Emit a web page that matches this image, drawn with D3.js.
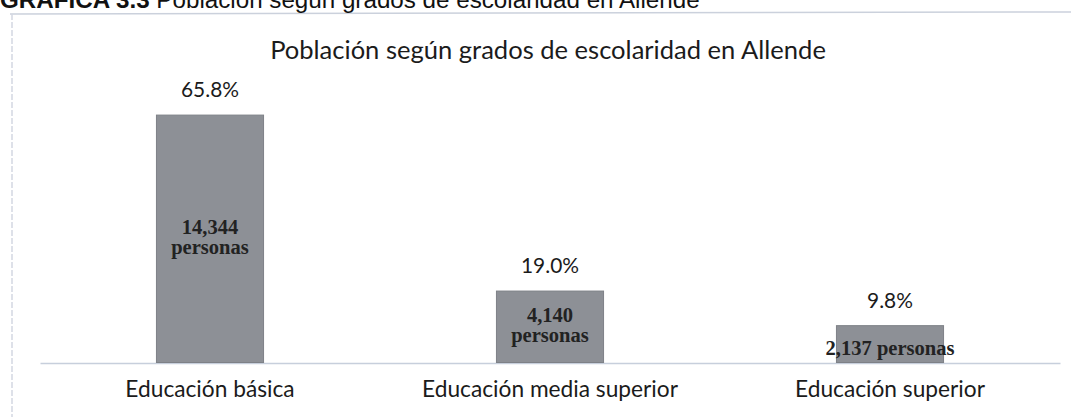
<!DOCTYPE html>
<html><head><meta charset="utf-8">
<script src="https://cdn.jsdelivr.net/npm/d3@7"></script>
<style>body{margin:0;background:#fff;overflow:hidden} svg{display:block}</style>
</head><body><svg id="c" width="1071" height="417"></svg>
<script>
// ---- data ----
const categories = ["Educación básica", "Educación media superior", "Educación superior"];
const percents = [65.8, 19.0, 9.8];
const persons = [14344, 4140, 2137];
const innerLabelLines = [["14,344", "personas"], ["4,140", "personas"], ["2,137 personas"]];
const headerBold = "GRÁFICA 3.3";
const headerRest = " Población según grados de escolaridad en Allende";
const chartTitle = "Población según grados de escolaridad en Allende";

// ---- layout ----
const svg = d3.select("#c");
const sansFont = "Lato, 'Open Sans', sans-serif";
const serifFont = "'Liberation Serif', 'DejaVu Serif', serif";
const ink = "#1b1b1b";

function fitTo(sel, target) {
  const w = sel.node().getComputedTextLength();
  const fs = parseFloat(sel.style("font-size"));
  return fs * target / w;
}

// frame lines (scanned box)
svg.append("line").attr("x1", 10).attr("x2", 1071).attr("y1", 14).attr("y2", 12)
  .attr("stroke", "#cbd1dc").attr("stroke-width", 1.5);
svg.append("line").attr("x1", 12).attr("x2", 12).attr("y1", 14).attr("y2", 417)
  .attr("stroke", "#d3d8e2").attr("stroke-width", 1.5).attr("stroke-dasharray", "6,2");

// header (cut off at top edge, as in the scanned page)
const header = svg.append("text").attr("x", 0).attr("y", 8)
  .style("font-family", "'Liberation Sans', Arial, sans-serif").style("font-size", "19px")
  .attr("fill", "#111");
header.append("tspan").style("font-weight", "bold").text(headerBold);
header.append("tspan").text(headerRest);
header.style("font-size", fitTo(header, 700) + "px");

// chart title
const titleSel = svg.append("text").attr("x", 548).attr("y", 59).attr("text-anchor", "middle")
  .style("font-family", sansFont).style("font-size", "21px").attr("fill", ink).text(chartTitle);
titleSel.style("font-size", fitTo(titleSel, 556) + "px");

// scales
const x = d3.scaleBand().domain(categories).range([40, 1060]).paddingInner(0.685).paddingOuter(0.3425);
const y = d3.scaleLinear().domain([0, 70]).range([362.5, 362.5 - 70 * 3.76]);

// axis line
const axis = svg.append("g").attr("transform", `translate(0,${y(0) + 0.5})`)
  .call(d3.axisBottom(x).tickSize(0).tickFormat(""));
axis.select(".domain").attr("stroke", "#c7cfdc").attr("stroke-width", 1.5);

// bars
svg.append("g").selectAll("rect").data(categories).join("rect")
  .attr("x", d => x(d)).attr("width", x.bandwidth())
  .attr("y", (d, i) => y(percents[i])).attr("height", (d, i) => y(0) - y(percents[i]))
  .attr("fill", "#8d9096").attr("stroke", "#7e8187").attr("stroke-width", 1);

// percent labels
const pct = svg.append("g").selectAll("text").data(categories).join("text")
  .attr("x", d => x(d) + x.bandwidth() / 2)
  .attr("y", (d, i) => y(percents[i]) - 18)
  .attr("text-anchor", "middle").style("font-family", sansFont).style("font-size", "21px")
  .attr("fill", ink).text((d, i) => percents[i].toFixed(1) + "%");
const pctSize = fitTo(pct.filter((d, i) => i === 1), 58);
pct.style("font-size", pctSize + "px");

// category labels
const cat = svg.append("g").selectAll("text").data(categories).join("text")
  .attr("x", d => x(d) + x.bandwidth() / 2).attr("y", 397)
  .attr("text-anchor", "middle").style("font-family", sansFont).style("font-size", "20px")
  .attr("fill", ink).text(d => d);
const catSize = fitTo(cat.filter((d, i) => i === 1), 256);
cat.style("font-size", catSize + "px");

// inner labels (persons)
const inner = svg.append("g").selectAll("text").data(categories).join("text")
  .attr("text-anchor", "middle").style("font-family", serifFont).style("font-weight", "bold")
  .style("font-size", "19px").attr("fill", "#222")
  .each(function (d, i) {
    const lines = innerLabelLines[i];
    const mid = (y(percents[i]) + y(0)) / 2;
    const cx = x(d) + x.bandwidth() / 2;
    const t = d3.select(this);
    if (lines.length === 2) {
      t.append("tspan").attr("x", cx).attr("y", mid - 5).text(lines[0]);
      t.append("tspan").attr("x", cx).attr("y", mid + 15).text(lines[1]);
    } else {
      t.append("tspan").attr("x", cx).attr("y", mid + 10.5).text(lines[0]);
    }
  });
const innerSize = fitTo(inner.filter((d, i) => i === 2), 129);
inner.style("font-size", innerSize + "px");
</script>
</body></html>
